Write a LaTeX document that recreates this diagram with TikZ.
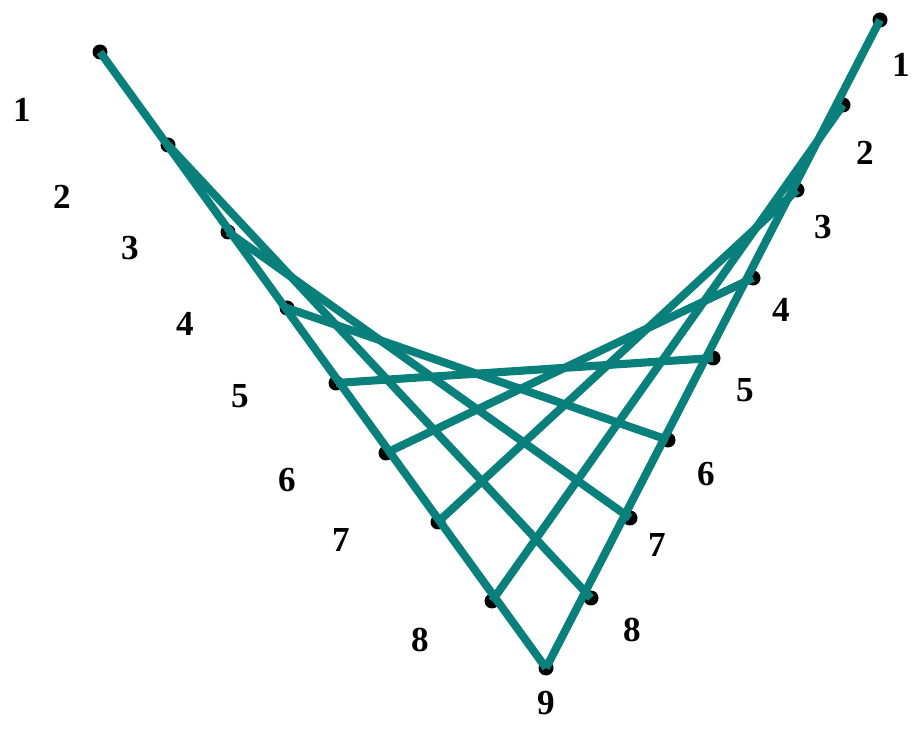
\documentclass[tikz,border=0pt]{standalone}
\usepackage{fontspec}
\setmainfont{Liberation Serif}
\definecolor{stringteal}{RGB}{10,128,124}

\begin{document}
\begin{tikzpicture}[
  x=0.02cm, y=-0.02cm,
  pin/.style={circle, fill=black, inner sep=0pt, minimum size=0.3cm},
  string/.style={draw=stringteal, line width=4.6pt},
  num/.style={font=\bfseries\fontsize{20}{22}\selectfont, inner sep=0pt}
]
\useasboundingbox (0,0) rectangle (912,742);
% pins on the left arm
\node[pin] (L1) at (100,52) {};
\node[pin] (L2) at (168,145) {};
\node[pin] (L3) at (228,232) {};
\node[pin] (L4) at (287,308) {};
\node[pin] (L5) at (336,383) {};
\node[pin] (L6) at (386,453) {};
\node[pin] (L7) at (438,522) {};
\node[pin] (L8) at (492,601) {};
\node[pin] (L9) at (546,668) {};
% pins on the right arm
\node[pin] (R1) at (880,20) {};
\node[pin] (R2) at (843,105) {};
\node[pin] (R3) at (797,190) {};
\node[pin] (R4) at (753,278) {};
\node[pin] (R5) at (713,358) {};
\node[pin] (R6) at (668,440) {};
\node[pin] (R7) at (630,518) {};
\node[pin] (R8) at (591,598) {};
\coordinate (R9) at (L9);
% strings
\foreach \i [evaluate=\i as \j using int(10-\i)] in {1,...,9}
  \draw[string] (L\i.center) -- (R\j.center);
% numbers
\node[num] (nl1) at (22,110) {1};
\node[num] (nl2) at (62,197) {2};
\node[num] (nl3) at (130,248) {3};
\node[num] (nl4) at (185,324) {4};
\node[num] (nl5) at (240,396) {5};
\node[num] (nl6) at (287,480) {6};
\node[num] (nl7) at (341,540) {7};
\node[num] (nl8) at (420,640) {8};
\node[num] (n9) at (546,703) {9};
\node[num] (nr1) at (901,65) {1};
\node[num] (nr2) at (865,153) {2};
\node[num] (nr3) at (823,227) {3};
\node[num] (nr4) at (781,310) {4};
\node[num] (nr5) at (745,390) {5};
\node[num] (nr6) at (706,474) {6};
\node[num] (nr7) at (657,545) {7};
\node[num] (nr8) at (632,630) {8};
\end{tikzpicture}
\end{document}
